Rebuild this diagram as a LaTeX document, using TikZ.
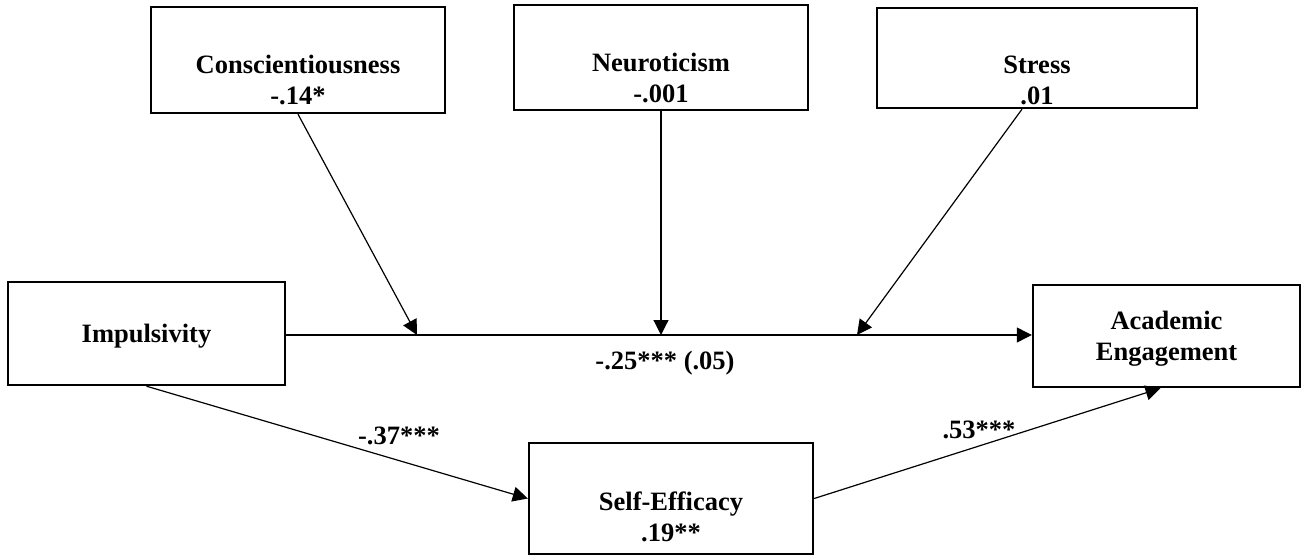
\documentclass[tikz,border=0pt]{standalone}
\usepackage{fontspec}
\setmainfont{Liberation Serif}
\usetikzlibrary{arrows.meta}
\begin{document}
\begin{tikzpicture}[x=1pt,y=-1pt,
  box/.style={draw=black, line width=2.4pt, fill=none, inner sep=0pt},
  lbl/.style={font=\fontsize{26.5}{31}\selectfont\bfseries, align=center, inner sep=0pt},
  path/.style={line width=1.2pt, -{Triangle[length=15pt,width=15pt]}},
  plain/.style={line width=1.2pt}]
\useasboundingbox (0,0) rectangle (1306,556);

% variable boxes
\node[box, minimum width=294pt, minimum height=106pt] (cons)   at (298,60)     {};
\node[box, minimum width=294pt, minimum height=105pt] (neur)   at (661,57.5)   {};
\node[box, minimum width=320pt, minimum height=100pt] (stress) at (1037,58)    {};
\node[box, minimum width=277pt, minimum height=103pt] (imp)    at (146.5,333.5){};
\node[box, minimum width=267pt, minimum height=102pt] (acad)   at (1166.5,336) {};
\node[box, minimum width=284pt, minimum height=111pt] (self)   at (671,498.5)  {};

% box texts
\node[lbl] (cons-t)   at (298,80)    {Conscientiousness\\-.14*};
\node[lbl] (neur-t)   at (661,78)    {Neuroticism\\-.001};
\node[lbl] (stress-t) at (1037,80)   {Stress\\.01};
\node[lbl] (imp-t)    at (146.5,336) {Impulsivity};
\node[lbl] (acad-t)   at (1166.5,339){Academic\\Engagement};
\node[lbl] (self-t)   at (671,517)   {Self-Efficacy\\.19**};

% direct path and moderation points on it
\draw[path] (imp.east |- 0,335) coordinate (d0) -- (acad.west |- 0,335) coordinate (d1);
\coordinate (m1) at (417,335);
\coordinate (m2) at (661,335);
\coordinate (m3) at (857,335);

% moderator arrows
\draw[path] (cons.south) -- (m1);
\draw[path] (neur.south) -- (m2);
\draw[path] ([xshift=-15pt]stress.south) -- (m3);

% mediation paths
\draw[path] (imp.south) -- (self.west);
\draw[path] (self.east) -- ([xshift=-6pt]acad.south);

% coefficients
\node[lbl] (c-direct) at (665,363) {-.25*** (.05)};
\node[lbl] (c-a)      at (399,436) {-.37***};
\node[lbl] (c-b)      at (979,430) {.53***};
\end{tikzpicture}
\end{document}
